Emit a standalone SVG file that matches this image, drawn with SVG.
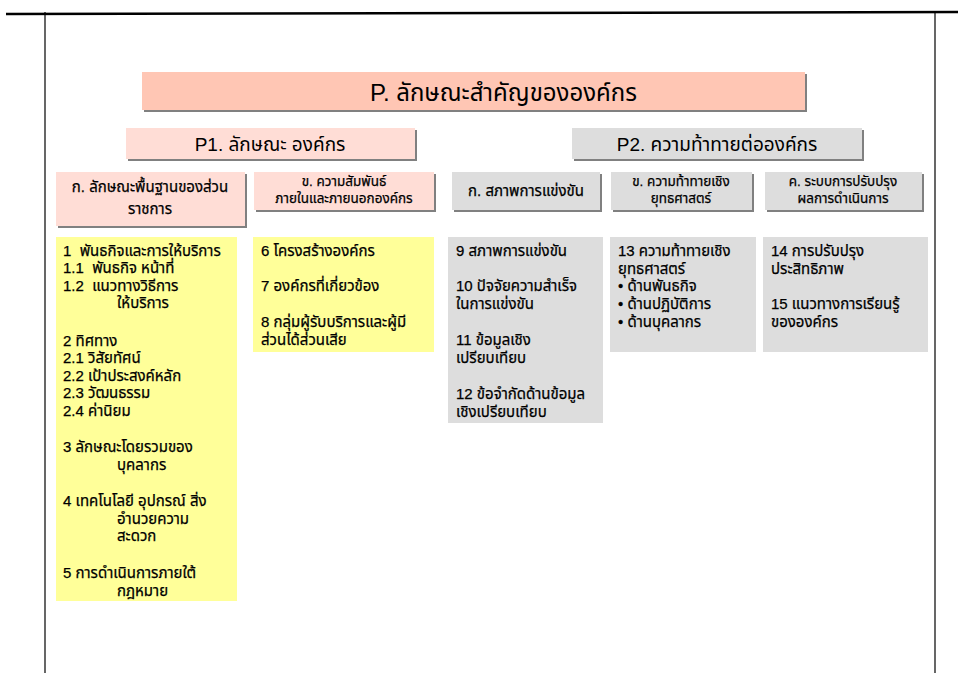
<svg xmlns="http://www.w3.org/2000/svg" width="958" height="673" viewBox="0 0 958 673">
<style>
text{font-family:"Liberation Sans","Noto Sans Thai",Tahoma,sans-serif;fill:#000;white-space:pre}
.t{font-size:24px}
.h{font-size:19px;text-anchor:middle}
.s{font-size:15px;text-anchor:middle;stroke:#000;stroke-width:0.25}
.s2{font-size:13.5px;text-anchor:middle;stroke:#000;stroke-width:0.25}
.c{font-size:15px;stroke:#000;stroke-width:0.25}
.sh{fill:#808080}
.pk{fill:#FFC6B4}
.lp{fill:#FFDDD6}
.gy{fill:#DDDDDD}
.yl{fill:#FFFF99}
.frame{stroke:#000;fill:none}
</style>
<g id="frame">
<line x1="6" y1="14" x2="958" y2="12" stroke="#000" stroke-width="2.5"/>
<line x1="45" y1="12" x2="45" y2="673" class="frame" stroke-width="1.2"/>
<line x1="935" y1="12" x2="935" y2="673" class="frame" stroke-width="1.2"/>
</g>
<g id="title">
<rect x="144" y="74" width="663" height="38" class="sh"/>
<rect x="142" y="72" width="663" height="38" class="pk"/>
<text x="370" y="101" class="t">P. ลักษณะสำคัญขององค์กร</text>
</g>
<g id="p1">
<rect x="128" y="130" width="289" height="31" class="sh"/>
<rect x="126" y="128" width="289" height="31" class="lp"/>
<text x="270" y="151" class="h">P1. ลักษณะ องค์กร</text>
</g>
<g id="p2">
<rect x="574" y="130" width="290" height="31" class="sh"/>
<rect x="572" y="128" width="290" height="31" class="gy"/>
<text x="717" y="151" class="h">P2. ความท้าทายต่อองค์กร</text>
</g>
<g id="s1">
<rect x="58" y="174" width="189" height="54" class="sh"/>
<rect x="56" y="172" width="189" height="54" class="lp"/>
<text x="150" y="192" class="s">ก. ลักษณะพื้นฐานของส่วน</text>
<text x="150" y="214" class="s">ราชการ</text>
</g>
<g id="s2">
<rect x="256" y="174" width="180" height="38" class="sh"/>
<rect x="254" y="172" width="180" height="38" class="lp"/>
<text x="344" y="186" class="s2">ข. ความสัมพันธ์</text>
<text x="344" y="203" class="s2">ภายในและภายนอกองค์กร</text>
</g>
<g id="s3">
<rect x="454" y="174" width="148" height="38" class="sh"/>
<rect x="452" y="172" width="148" height="38" class="gy"/>
<text x="526" y="196" class="s">ก. สภาพการแข่งขัน</text>
</g>
<g id="s4">
<rect x="613" y="174" width="141" height="38" class="sh"/>
<rect x="611" y="172" width="141" height="38" class="gy"/>
<text x="681" y="186" class="s2">ข. ความท้าทายเชิง</text>
<text x="681" y="203" class="s2">ยุทธศาสตร์</text>
</g>
<g id="s5">
<rect x="767" y="174" width="157" height="38" class="sh"/>
<rect x="765" y="172" width="157" height="38" class="gy"/>
<text x="843" y="186" class="s2">ค. ระบบการปรับปรุง</text>
<text x="843" y="203" class="s2">ผลการดำเนินการ</text>
</g>
<g id="b1">
<rect x="56" y="237" width="181" height="364" class="yl"/>
<text x="63" y="256" class="c">1  พันธกิจและการให้บริการ</text>
<text x="63" y="273" class="c">1.1  พันธกิจ หน้าที่</text>
<text x="63" y="291" class="c">1.2  แนวทางวิธีการ</text>
<text x="117" y="308" class="c">ให้บริการ</text>
<text x="63" y="346" class="c">2 ทิศทาง</text>
<text x="63" y="363" class="c">2.1 วิสัยทัศน์</text>
<text x="63" y="381" class="c">2.2 เป้าประสงค์หลัก</text>
<text x="63" y="398" class="c">2.3 วัฒนธรรม</text>
<text x="63" y="416" class="c">2.4 ค่านิยม</text>
<text x="63" y="452" class="c">3 ลักษณะโดยรวมของ</text>
<text x="117" y="470" class="c">บุคลากร</text>
<text x="63" y="506" class="c">4 เทคโนโลยี อุปกรณ์ สิ่ง</text>
<text x="117" y="524" class="c">อำนวยความ</text>
<text x="117" y="541" class="c">สะดวก</text>
<text x="63" y="578" class="c">5 การดำเนินการภายใต้</text>
<text x="117" y="596" class="c">กฎหมาย</text>
</g>
<g id="b2">
<rect x="253" y="237" width="181" height="115" class="yl"/>
<text x="261" y="256" class="c">6 โครงสร้างองค์กร</text>
<text x="261" y="291" class="c">7 องค์กรที่เกี่ยวข้อง</text>
<text x="261" y="327" class="c">8 กลุ่มผู้รับบริการและผู้มี</text>
<text x="261" y="345" class="c">ส่วนได้ส่วนเสีย</text>
</g>
<g id="b3">
<rect x="448" y="237" width="155" height="186" class="gy"/>
<text x="456" y="256" class="c">9 สภาพการแข่งขัน</text>
<text x="456" y="291" class="c">10 ปัจจัยความสำเร็จ</text>
<text x="456" y="309" class="c">ในการแข่งขัน</text>
<text x="456" y="345" class="c">11 ข้อมูลเชิง</text>
<text x="456" y="363" class="c">เปรียบเทียบ</text>
<text x="456" y="399" class="c">12 ข้อจำกัดด้านข้อมูล</text>
<text x="456" y="417" class="c">เชิงเปรียบเทียบ</text>
</g>
<g id="b4">
<rect x="610" y="237" width="146" height="115" class="gy"/>
<text x="618" y="256" class="c">13 ความท้าทายเชิง</text>
<text x="618" y="274" class="c">ยุทธศาสตร์</text>
<text x="618" y="291" class="c">• ด้านพันธกิจ</text>
<text x="618" y="309" class="c">• ด้านปฏิบัติการ</text>
<text x="618" y="327" class="c">• ด้านบุคลากร</text>
</g>
<g id="b5">
<rect x="763" y="237" width="165" height="115" class="gy"/>
<text x="771" y="256" class="c">14 การปรับปรุง</text>
<text x="771" y="274" class="c">ประสิทธิภาพ</text>
<text x="771" y="309" class="c">15 แนวทางการเรียนรู้</text>
<text x="771" y="327" class="c">ขององค์กร</text>
</g>
<g id="connectors"></g>
</svg>
